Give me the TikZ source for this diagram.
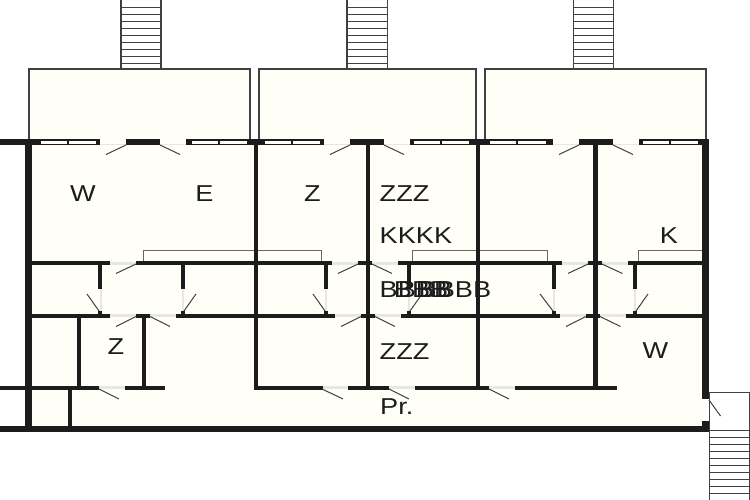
\documentclass[tikz,border=0pt]{standalone}
\usepackage{fontspec}
\setmainfont[FakeStretch=1.18]{Liberation Sans}
\definecolor{wallc}{HTML}{1C1C1C}
\definecolor{floorc}{HTML}{FFFFF8}
\definecolor{thinc}{HTML}{404040}
\definecolor{sillc}{HTML}{E8E8E2}
\tikzset{
  wall/.style={wallc,line width=4pt},
  thick wall/.style={wallc,line width=7.5pt},
  outer wall/.style={wallc,line width=6pt},
  leaf/.style={thinc,line width=1pt},
  outline/.style={thinc,line width=2pt},
  tread/.style={thinc,line width=.9pt},
  fixture/.style={draw=thinc!80!white,line width=1pt},
  sill/.style={sillc,line width=1pt},
  lbl/.style={font=\fontsize{23}{25}\selectfont,text=wallc,inner sep=0pt},
  lblw/.style={lbl,anchor=base west},
  pane/.style={draw=wallc,line width=.4pt,fill=white},
}
\newcommand{\glaze}[5]{%
  \fill[wallc] (#1,139) rectangle (#2,145);
  \filldraw[pane] (#3,140.4) rectangle (#4,144);
  \filldraw[pane] (#4+1,140.4) rectangle (#5,144);
}
\newcommand{\stairs}[2]{%
  \draw[thinc,line width=1.1pt] (#1,0) -- (#1,69) (#2,0) -- (#2,69);
  \foreach \yy in {7,14,...,63} {\draw[tread] (#1,\yy) -- (#2,\yy);}
}
\begin{document}
\begin{tikzpicture}[x=1pt,y=-1pt]
\useasboundingbox (0,0) rectangle (750,500);
% floors
\fill[floorc] (32,142) rectangle (705,430);
\fill[floorc] (28,69) rectangle (250,142);
\fill[floorc] (258.5,69) rectangle (476,142);
\fill[floorc] (484.5,69) rectangle (706,142);
% terraces
\draw[outline] (28.5,140) -- (28.5,69.5) -- (250,69.5) -- (250,140);
\draw[outline] (258.5,140) -- (258.5,69.5) -- (476,69.5) -- (476,140);
\draw[outline] (484.5,140) -- (484.5,69.5) -- (706,69.5) -- (706,140);
% stairs
\stairs{121}{161}
\stairs{347}{387.3}
\stairs{573.3}{613.7}
\draw[thinc,line width=1.1pt] (709.3,392.8) -- (749.5,392.8) -- (749.5,500) (709.3,392.8) -- (709.3,500);
\foreach \yy in {430,437,444,451,458,465,472,479,486,493} {\draw[tread] (709.3,\yy) -- (749.5,\yy);}
% fixtures
\draw[fixture] (143.5,262) -- (143.5,250) -- (321.5,250) -- (321.5,262);
\draw[fixture] (412.7,262) -- (412.7,250) -- (547,250) -- (547,262);
\draw[fixture] (638,262) -- (638,250) -- (702,250);
% sills
\foreach \a/\b in {100/126,160/186,324/350,384/410,553/579,613/639} {\draw[sill] (\a,145) -- (\b,145);}
\foreach \a/\b in {110/136,332/358,372/398,562/588,602/628} {\draw[sill,line width=3pt] (\a,263) -- (\b,263);}
\foreach \a/\b in {110/136,150/176,335/361,375/401,560/586,600/626} {\draw[sill,line width=3pt] (\a,315.5) -- (\b,315.5);}
\foreach \a/\b in {99/125,323/348,389/415,489/514.5} {\draw[sill,line width=3pt] (\a,387.5) -- (\b,387.5);}
\foreach \xx in {101,183,326,409,554,635} {\draw[sill,line width=2pt] (\xx,289) -- (\xx,311);}
% windows and piers
\glaze{33}{100}{40}{67}{96}
\glaze{186}{250}{191}{218}{247}
\glaze{258}{324}{264}{291}{320}
\glaze{410}{473}{413}{440}{469}
\glaze{486}{553}{489}{516}{546}
\glaze{639}{702}{642}{669}{698}
\fill[wallc] (0,139) rectangle (40,145);
\fill[wallc] (126,139) rectangle (160,145);
\fill[wallc] (247,139) rectangle (264,145);
\fill[wallc] (350,139) rectangle (384,145);
\fill[wallc] (469,139) rectangle (489,145);
\fill[wallc] (579,139) rectangle (613,145);
\fill[wallc] (698,139) rectangle (709,145);
% main walls
\draw[thick wall] (28.5,142) -- (28.5,430);
\draw[wall,line width=4.5pt] (256,142) -- (256,389.5);
\draw[wall] (368,142) -- (368,389.5);
\draw[wall,line width=4.5pt] (478,142) -- (478,389.5);
\draw[wall,line width=4.5pt] (595.5,142) -- (595.5,389.5);
\draw[thick wall] (705.5,139) -- (705.5,399);
\draw[thick wall] (705.5,421) -- (705.5,432);
\draw[outer wall] (0,429) -- (709,429);
\draw[wall] (79,315.5) -- (79,387.5);
\draw[wall] (143.5,315.5) -- (143.5,387.5);
\draw[wall] (69.5,387.5) -- (69.5,429);
% upper corridor wall
\foreach \a/\b in {32/110,136/332,358/372,398/562,588/602,628/702} {\draw[wall] (\a,263) -- (\b,263);}
% lower corridor wall
\foreach \a/\b in {32/110,136/150,176/335,361/375,401/560,586/600,626/702} {\draw[wall] (\a,315.5) -- (\b,315.5);}
% bottom corridor wall
\foreach \a/\b in {0/99,125/165,254/323,348/389,415/489,514.5/617} {\draw[wall] (\a,387.5) -- (\b,387.5);}
% door stubs
\foreach \xx in {100,182.5,326,409,554,635} {
  \draw[wall] (\xx,263) -- (\xx,289);
  \draw[wall] (\xx,311) -- (\xx,315.5);
}
% door leaves
\foreach \a/\b/\c/\d in {
 126/145/106/154.5, 160/145/180/154.5, 350/145/330/154.5, 384/145/404/154.5, 579/145/559/154.5, 613/145/633/154.5,
 136/264/116/273.5, 358/264/338/273.5, 372/264/392/273.5, 588/264/568/273.5, 602/264/622.5/273.5,
 136/316.5/116/326.5, 150/316.5/170/326.5, 361/316.5/341/326.5, 375/316.5/395/326.5, 586/316.5/566/326.5, 600/316.5/620.5/326.5,
 99/389/119/399, 322/389/343/399, 389/389/409/399, 489/389/509/399, 709/400/720.5/416,
 99/311/87/294, 184/311/196/294, 325/311/313/294, 410/311/422/294, 553/311/540/294, 636/311/648/294}
 {\draw[leaf] (\a,\b) -- (\c,\d);}
% labels
\node[lbl] (w1) at (83,193.5) {W};
\node[lbl] (e1) at (204.5,193.5) {E};
\node[lbl] (z1) at (312.5,193.5) {Z};
\node[lblw] (zzz1) at (379.5,201.8) {ZZZ};
\node[lblw] (kkkk) at (379.5,243) {KKKK};
\node[lbl] (k1) at (669,235.5) {K};
\node[lblw] (bb1) at (379.5,297.5) {BBBB};
\node[lblw] (bb2) at (393.7,297.5) {BBB};
\node[lblw] (bb3) at (418.5,297.5) {BBBB};
\node[lbl] (z2) at (116,346.5) {Z};
\node[lblw] (zzz2) at (379.5,359.5) {ZZZ};
\node[lbl] (w2) at (655.5,351) {W};
\node[lblw] (pr) at (380,414) {Pr.};
\end{tikzpicture}
\end{document}
